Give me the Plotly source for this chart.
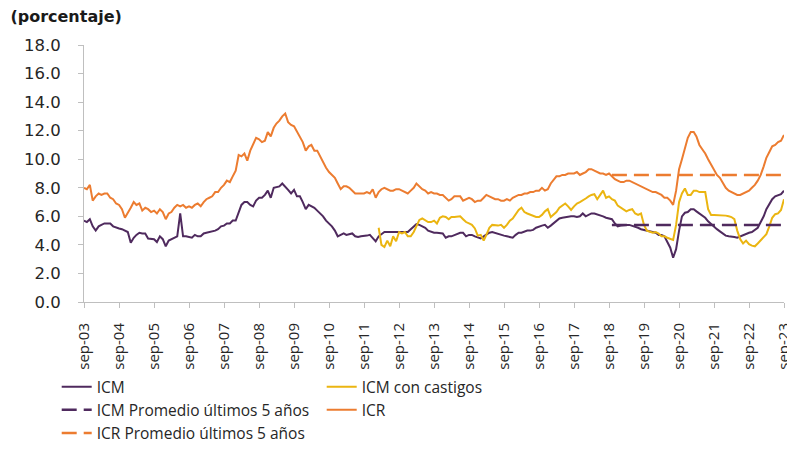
import pandas as pd
import plotly.graph_objects as go

# Monthly dates: sep-2003 .. sep-2023
fechas = pd.date_range("2003-09-01", "2023-09-01", freq="MS")

icr = [
    8.0, 7.9, 8.2, 7.1, 7.4, 7.6, 7.5, 7.6, 7.6, 7.3, 7.2, 6.9,
    6.8, 6.5, 5.9, 6.3, 6.6, 7.0, 6.8, 6.9, 6.4, 6.6, 6.5, 6.3,
    6.4, 6.2, 6.5, 6.3, 5.8, 6.2, 6.3, 6.6, 6.8, 6.7, 6.8, 6.6,
    6.7, 6.6, 6.8, 6.9, 6.7, 7.0, 7.2, 7.3, 7.4, 7.7, 7.7, 8.0,
    8.2, 8.5, 8.4, 8.8, 9.2, 10.3, 10.2, 10.4, 9.9, 10.6, 11.0, 11.5,
    11.4, 11.2, 11.3, 11.9, 11.6, 12.2, 12.5, 12.7, 13.0, 13.2, 12.6, 12.4,
    12.3, 11.9, 11.6, 11.2, 10.6, 10.9, 11.0, 10.6, 10.6, 10.2, 9.7, 9.4,
    9.1, 8.9, 8.7, 8.3, 7.9, 8.1, 8.1, 8.0, 7.8, 7.6, 7.6, 7.6,
    7.6, 7.7, 7.6, 7.9, 7.3, 7.7, 7.9, 8.0, 7.9, 7.8, 7.8, 7.9,
    7.9, 7.8, 7.7, 7.6, 7.8, 8.0, 8.3, 8.1, 7.9, 7.8, 7.6, 7.7,
    7.6, 7.6, 7.5, 7.5, 7.3, 7.1, 7.2, 7.4, 7.4, 7.4, 7.1, 7.2,
    7.3, 7.2, 7.0, 7.1, 7.1, 7.3, 7.5, 7.4, 7.3, 7.2, 7.2, 7.1,
    7.1, 7.2, 7.1, 7.3, 7.4, 7.5, 7.5, 7.6, 7.6, 7.7, 7.7, 7.8,
    7.8, 8.0, 7.8, 7.9, 8.3, 8.6, 8.8, 8.8, 8.9, 8.9, 9.0, 9.0,
    9.0, 9.1, 8.9, 9.0, 9.1, 9.3, 9.3, 9.2, 9.1, 9.0, 9.0, 8.9,
    9.0, 8.8, 8.6, 8.5, 8.4, 8.4, 8.5, 8.5, 8.4, 8.3, 8.2, 8.1,
    8.0, 7.9, 7.8, 7.7, 7.7, 7.6, 7.5, 7.3, 7.3, 7.1, 6.8, 7.8,
    9.3, 10.0, 10.7, 11.5, 11.9, 11.9, 11.6, 11.0, 10.7, 10.4, 10.0, 9.6,
    9.3, 8.9, 8.7, 8.3, 8.0, 7.8, 7.7, 7.6, 7.5, 7.5, 7.6, 7.7,
    7.8, 8.0, 8.2, 8.5, 8.9, 9.5, 10.1, 10.5, 10.9, 11.0, 11.2, 11.3,
    11.7,
]

icm = [
    5.7, 5.6, 5.8, 5.3, 5.0, 5.3, 5.4, 5.5, 5.5, 5.5, 5.3, 5.2,
    5.15, 5.1, 5.0, 4.9, 4.15, 4.5, 4.7, 4.85, 4.8, 4.8, 4.45, 4.4,
    4.4, 4.2, 4.6, 4.4, 3.9, 4.3, 4.4, 4.5, 4.6, 6.2, 4.6, 4.6,
    4.55, 4.5, 4.7, 4.6, 4.6, 4.8, 4.85, 4.9, 5.0, 5.0, 5.1, 5.3,
    5.35, 5.5, 5.5, 5.7, 5.7, 6.2, 6.8, 7.0, 7.0, 6.8, 6.7, 7.1,
    7.3, 7.3, 7.5, 7.8, 7.3, 8.0, 8.05, 8.1, 8.3, 8.1, 7.85, 7.6,
    7.85, 7.4, 7.4, 7.0, 6.5, 6.8, 6.7, 6.6, 6.4, 6.2, 6.0, 5.7,
    5.5, 5.3, 5.0, 4.6, 4.7, 4.8, 4.7, 4.75, 4.8, 4.6, 4.55, 4.6,
    4.6, 4.65, 4.7, 4.5, 4.25, 4.6, 4.75, 4.9, 4.9, 4.9, 4.9, 4.9,
    4.9, 4.9, 4.85, 4.9, 5.1, 5.3, 5.45, 5.4, 5.3, 5.2, 5.0, 4.9,
    4.85, 4.85, 4.8, 4.8, 4.5, 4.6, 4.6, 4.7, 4.8, 4.85, 4.85, 4.6,
    4.7, 4.7, 4.6, 4.55, 4.45, 4.6, 4.75, 4.85, 4.9, 4.85, 4.75, 4.7,
    4.65, 4.6, 4.55, 4.5, 4.7, 4.85, 4.85, 4.95, 5.0, 5.0, 5.05, 5.2,
    5.3, 5.35, 5.4, 5.2, 5.35, 5.5, 5.7, 5.85, 5.9, 5.95, 5.95, 6.0,
    6.0, 5.95, 6.0, 6.2, 6.0, 6.1, 6.2, 6.2, 6.15, 6.1, 6.0, 5.9,
    5.85, 5.8, 5.5, 5.3, 5.35, 5.4, 5.4, 5.4, 5.35, 5.3, 5.2, 5.1,
    5.05, 5.0, 4.9, 4.85, 4.85, 4.7, 4.7, 4.6, 4.2, 3.8, 3.1, 3.7,
    5.0, 6.0, 6.25, 6.3, 6.5, 6.5, 6.35, 6.2, 6.1, 5.9, 5.65, 5.45,
    5.3, 5.1, 4.95, 4.8, 4.65, 4.6, 4.6, 4.55, 4.5, 4.6, 4.7, 4.75,
    4.85, 4.9, 5.05, 5.2, 5.6, 6.0, 6.5, 6.9, 7.2, 7.4, 7.5, 7.55,
    7.8,
]

# ICM con castigos starts in feb-2012 (month index 101)
icm_castigos = [None] * 101 + [
    5.2, 4.0, 3.85, 4.3, 3.9, 4.6, 4.25,
    4.9, 4.8, 4.9, 4.6, 4.6, 4.9, 5.3, 5.75, 5.85, 5.7, 5.6, 5.6,
    5.7, 5.5, 5.9, 6.0, 5.95, 5.8, 5.95, 5.95, 6.0, 6.0, 5.8, 5.6,
    5.5, 5.4, 5.15, 4.65, 4.7, 4.3, 4.7, 5.2, 5.4, 5.35, 5.35, 5.4,
    5.2, 5.4, 5.7, 5.85, 6.2, 6.45, 6.6, 6.3, 6.2, 6.1, 6.0, 5.95,
    5.95, 6.1, 6.35, 6.5, 5.95, 6.1, 6.3, 6.6, 6.75, 6.9, 6.7, 6.45,
    6.7, 6.9, 7.0, 7.1, 7.25, 7.4, 7.5, 7.55, 7.2, 7.5, 7.8, 7.3,
    7.4, 7.2, 7.1, 6.75, 6.6, 6.5, 6.35, 6.45, 6.5, 6.2, 6.1, 6.2,
    5.4, 5.0, 4.9, 4.85, 4.9, 4.8, 4.6, 4.6, 4.5, 4.4, 4.35, 5.4,
    7.0, 7.6, 7.95, 7.5, 7.5, 7.8, 7.8, 7.7, 7.7, 7.7, 6.5, 6.1,
    6.1, 6.1, 6.1, 6.1, 6.05, 6.0, 5.95, 5.8, 5.0, 4.4, 4.1, 4.3,
    4.05, 3.95, 3.9, 4.1, 4.3, 4.5, 4.75, 5.3, 5.9, 6.15, 6.2, 6.45,
    7.2,
]

# 5-year averages (oct-2018 .. sep-2023)
prom_inicio = "2018-10-01"
prom_fin = "2023-09-01"
icm_promedio = 5.4
icr_promedio = 8.9

tick_fechas = pd.date_range("2003-09-01", "2023-09-01", freq="12MS")
tick_textos = ["sep-%02d" % (d.year % 100) for d in tick_fechas]

y_ticks = [0, 2, 4, 6, 8, 10, 12, 14, 16, 18]

MORADO = "#4F2A5E"
AMARILLO = "#EBB511"
NARANJA = "#EC7C30"

fig = go.Figure()
fig.add_trace(go.Scatter(x=fechas, y=icm, name="ICM", mode="lines",
                         line=dict(color=MORADO, width=2)))
fig.add_trace(go.Scatter(x=fechas, y=icm_castigos, name="ICM con castigos", mode="lines",
                         line=dict(color=AMARILLO, width=2)))
fig.add_trace(go.Scatter(x=[prom_inicio, prom_fin], y=[icm_promedio, icm_promedio],
                         name="ICM Promedio últimos 5 años", mode="lines",
                         line=dict(color=MORADO, width=2.5, dash="15px,7px")))
fig.add_trace(go.Scatter(x=fechas, y=icr, name="ICR", mode="lines",
                         line=dict(color=NARANJA, width=2)))
fig.add_trace(go.Scatter(x=[prom_inicio, prom_fin], y=[icr_promedio, icr_promedio],
                         name="ICR Promedio últimos 5 años", mode="lines",
                         line=dict(color=NARANJA, width=2.5, dash="15px,7px")))

# The page body adds an 8px offset; margins compensate so the plot area
# lands at x 84..784, y 45..302 in the window.
fig.update_layout(
    width=795, height=451,
    margin=dict(l=76, r=19, t=37, b=157, autoexpand=False),
    paper_bgcolor="white", plot_bgcolor="white",
    font=dict(family="Open Sans", color="#262626"),
    title=dict(text="<b>(porcentaje)</b>", xref="container", yref="container",
               x=0.003, y=0.982, xanchor="left", yanchor="middle",
               font=dict(family="DejaVu Sans", size=16, color="#1a1a1a")),
    showlegend=True,
    legend=dict(orientation="h", x=-0.039, xanchor="left", y=-0.265, yanchor="top",
                entrywidth=220, entrywidthmode="pixels",
                font=dict(size=15.5, color="#262626"), itemwidth=30,
                bgcolor="rgba(0,0,0,0)"),
)
fig.update_xaxes(
    type="date", range=["2003-09-01", "2023-09-01"],
    tickvals=tick_fechas, ticktext=tick_textos, tickangle=-90,
    showgrid=False, zeroline=False, automargin=False,
    showline=True, linecolor="#BFBFBF", linewidth=1,
    ticks="outside", ticklen=5, tickcolor="#BFBFBF",
    ticklabelstandoff=9,
    tickfont=dict(size=15, color="#262626"),
)
fig.update_yaxes(
    range=[0, 18], tickvals=y_ticks, tickformat=".1f",
    showgrid=False, zeroline=False, automargin=False,
    showline=True, linecolor="#BFBFBF", linewidth=1,
    ticks="outside", ticklen=5, tickcolor="#BFBFBF",
    ticklabelstandoff=14,
    tickfont=dict(family="DejaVu Sans", size=16.5, color="#262626"),
)

fig.write_html("out.html")
